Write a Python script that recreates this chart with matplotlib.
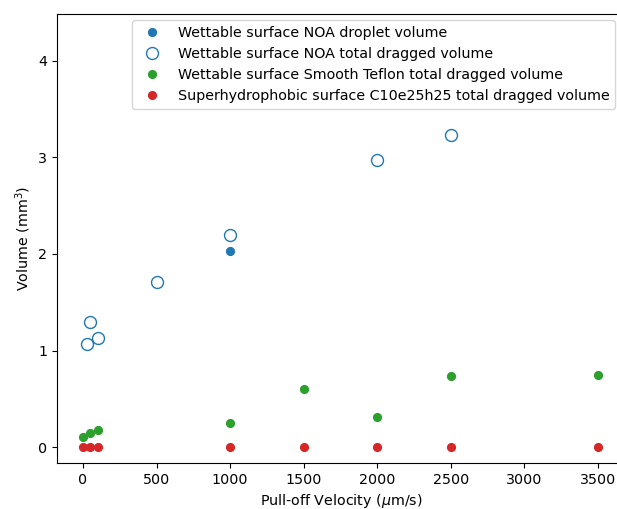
import numpy as np
import matplotlib
matplotlib.use("Agg")
import matplotlib.pyplot as plt

plt.rcParams['font.size'] = 10.3

# droplet volume, wettable NOA
noa_drop_v = [1000]
noa_drop_vol = [2.03]

# total dragged volume, wettable NOA
noa_tot_v = [25, 50, 100, 500, 1000, 2000, 2500]
noa_tot_vol = [1.07, 1.30, 1.13, 1.71, 2.20, 2.97, 3.23]

# smooth teflon
teflon_v = [0, 50, 100, 1000, 1500, 2000, 2500, 3500]
teflon_vol = [0.107, 0.142, 0.176, 0.249, 0.602, 0.311, 0.734, 0.744]

# superhydrophobic C10e25h25
shp_v = [0, 50, 100, 1000, 1500, 2000, 2500, 3500]
shp_vol = [0, 0, 0, 0, 0, 0, 0, 0]

fig = plt.figure(figsize=(6.17, 5.09), dpi=100)
# axes run a bit past the right edge of the picture (cropped like the original)
ax = fig.add_axes([57/617, 46/509, 568/617, 449/509])

ax.plot(noa_drop_v, noa_drop_vol, 'o', color='C0', markersize=5.6,
        label='Wettable surface NOA droplet volume')
ax.plot(noa_tot_v, noa_tot_vol, 'o', markerfacecolor='none', markeredgecolor='C0',
        markersize=8.6, label='Wettable surface NOA total dragged volume')
ax.plot(teflon_v, teflon_vol, 'o', color='C2', markersize=5.6,
        label='Wettable surface Smooth Teflon total dragged volume')
ax.plot(shp_v, shp_vol, 'o', color='C3', markersize=5.6,
        label='Superhydrophobic surface C10e25h25 total dragged volume')

ax.set_xlim(-176.7, 3683)
ax.set_ylim(-0.165, 4.485)
ax.set_yticks([0, 1, 2, 3, 4])
ax.spines['right'].set_visible(False)
ax.set_xlabel(r'Pull-off Velocity ($\mu$m/s)')
ax.set_ylabel(r'Volume (mm$^3$)')
ax.legend(loc='upper right', bbox_to_anchor=(615/617, 489/509),
          bbox_transform=fig.transFigure, borderaxespad=0)

fig.savefig('out.png', dpi=100)
